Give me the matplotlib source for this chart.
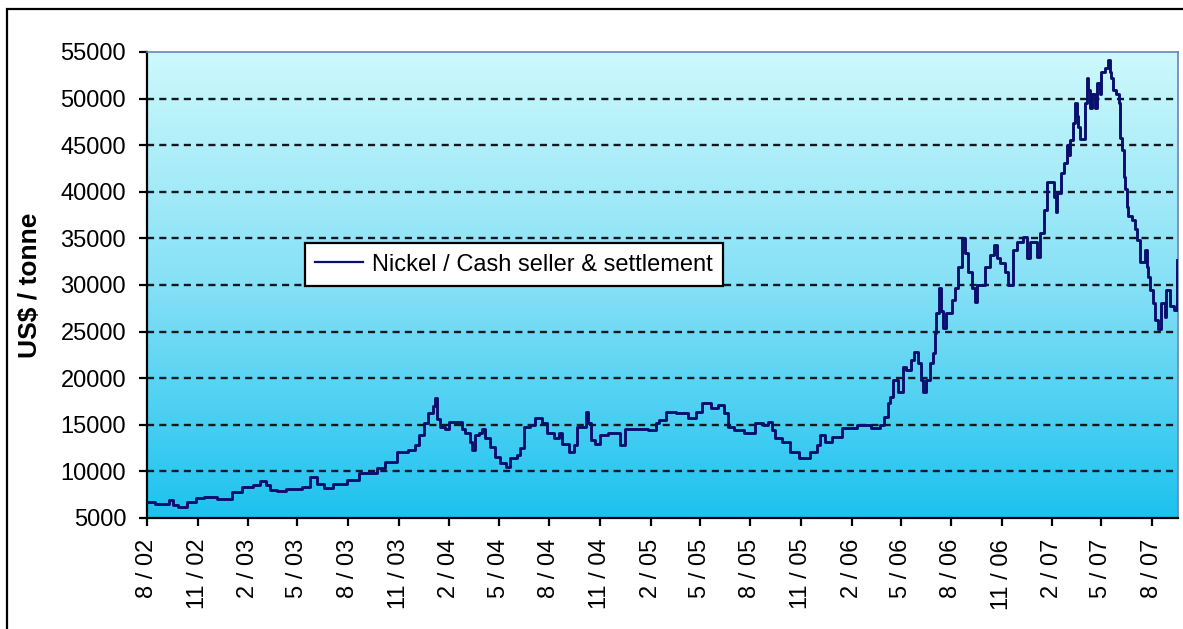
import matplotlib
matplotlib.use("Agg")
import matplotlib.pyplot as plt
from matplotlib.colors import LinearSegmentedColormap
from matplotlib.patches import Rectangle
import numpy as np
import pandas as pd

# ---- data ----
dates = [
    "2002-08-01", "2002-08-15", "2002-09-10", "2002-09-17", "2002-09-26", "2002-10-12", "2002-10-29",
    "2002-11-13", "2002-12-06", "2003-01-03", "2003-01-21", "2003-02-10", "2003-02-22", "2003-03-06",
    "2003-03-13", "2003-03-25", "2003-04-10", "2003-05-09", "2003-05-24", "2003-06-06", "2003-06-18",
    "2003-07-04", "2003-07-30", "2003-08-22", "2003-09-22", "2003-10-08", "2003-10-30", "2003-11-18",
    "2003-12-01", "2003-12-09", "2003-12-18", "2003-12-24", "2004-01-03", "2004-01-06", "2004-01-09",
    "2004-01-15", "2004-01-24", "2004-02-01", "2004-02-24", "2004-03-01", "2004-03-10", "2004-03-13",
    "2004-03-18", "2004-03-27", "2004-04-01", "2004-04-06", "2004-04-15", "2004-04-24", "2004-05-03",
    "2004-05-15", "2004-05-21", "2004-06-03", "2004-06-09", "2004-06-15", "2004-06-27", "2004-07-06",
    "2004-07-18", "2004-07-27", "2004-08-09", "2004-08-18", "2004-08-24", "2004-09-05", "2004-09-14",
    "2004-09-20", "2004-10-07", "2004-10-10", "2004-10-16", "2004-10-22", "2004-11-01", "2004-11-15",
    "2004-12-07", "2004-12-16", "2005-01-28", "2005-02-10", "2005-02-16", "2005-03-01", "2005-03-19",
    "2005-04-10", "2005-04-25", "2005-05-06", "2005-05-21", "2005-06-03", "2005-06-15", "2005-06-21",
    "2005-07-03", "2005-07-21", "2005-08-09", "2005-08-24", "2005-09-03", "2005-09-09", "2005-09-15",
    "2005-09-27", "2005-10-12", "2005-10-28", "2005-11-18", "2005-12-01", "2005-12-06", "2005-12-15",
    "2005-12-27", "2006-01-15", "2006-02-11", "2006-03-09", "2006-03-24", "2006-04-01", "2006-04-09",
    "2006-04-11", "2006-04-17", "2006-04-26", "2006-05-05", "2006-05-11", "2006-05-20", "2006-05-26",
    "2006-06-02", "2006-06-08", "2006-06-11", "2006-06-17", "2006-06-23", "2006-06-29", "2006-07-02",
    "2006-07-05", "2006-07-10", "2006-07-14", "2006-07-17", "2006-07-23", "2006-08-02", "2006-08-08",
    "2006-08-14", "2006-08-20", "2006-08-26", "2006-09-01", "2006-09-08", "2006-09-14", "2006-09-17",
    "2006-10-02", "2006-10-11", "2006-10-17", "2006-10-23", "2006-10-29", "2006-11-07", "2006-11-13",
    "2006-11-22", "2006-11-28", "2006-12-10", "2006-12-16", "2006-12-22", "2007-01-04", "2007-01-10",
    "2007-01-16", "2007-01-22", "2007-02-04", "2007-02-07", "2007-02-10", "2007-02-16", "2007-02-22",
    "2007-02-28", "2007-03-02", "2007-03-05", "2007-03-11", "2007-03-14", "2007-03-17", "2007-03-20",
    "2007-03-23", "2007-04-01", "2007-04-04", "2007-04-07", "2007-04-10", "2007-04-13", "2007-04-19",
    "2007-04-22", "2007-04-28", "2007-05-01", "2007-05-07", "2007-05-13", "2007-05-16", "2007-05-19",
    "2007-05-22", "2007-05-28", "2007-06-01", "2007-06-04", "2007-06-07", "2007-06-10", "2007-06-13",
    "2007-06-16", "2007-06-19", "2007-06-25", "2007-07-01", "2007-07-04", "2007-07-10", "2007-07-19",
    "2007-07-22", "2007-07-25", "2007-07-28", "2007-08-03", "2007-08-06", "2007-08-12", "2007-08-18",
    "2007-08-24", "2007-08-27", "2007-09-03", "2007-09-09", "2007-09-15",
]
prices = [
    6750, 6470, 6930, 6400, 6210, 6750, 7110,
    7290, 7000, 7830, 8360, 8540, 8970, 8540,
    8000, 7900, 8080, 8360, 9430, 8650, 8180,
    8650, 9080, 9800, 10330, 11040, 12110, 12300,
    12830, 13900, 15160, 16230, 17000, 17840, 15600,
    14800, 14560, 15330, 14500, 14090, 13190, 12300,
    13900, 14090, 14500, 13550, 12650, 11580, 10930,
    10500, 11400, 11760, 12480, 14800, 15000, 15700,
    15160, 14090, 13550, 14090, 12920, 12110, 12830,
    14800, 16400, 15160, 13370, 12900, 13900, 14090,
    12830, 14560, 14400, 15160, 15520, 16400, 16230,
    15700, 16400, 17300, 16770, 17130, 16230, 14800,
    14440, 14090, 15160, 15000, 15330, 14440, 13550,
    13190, 12110, 11400, 12110, 12830, 13900, 13190,
    13730, 14620, 15000, 14620, 15000, 15870, 17300,
    18020, 19800, 18550, 21230, 20880, 21950, 22850,
    21600, 19800, 18550, 19800, 21600, 22680, 24820,
    26970, 29650, 27160, 25350, 26970, 28390, 29650,
    31960, 35010, 33400, 31430, 29650, 28210, 30000,
    31960, 33220, 34290, 32860, 32330, 31430, 30000,
    33760, 34640, 35180, 32860, 34640, 33040, 35550,
    38050, 41090, 39480, 37880, 39840, 42000, 43050,
    45020, 43950, 45550, 47350, 49500, 48100, 47000,
    45640, 49500, 52180, 50900, 48960, 50540, 48960,
    51650, 50540, 52900, 53260, 54140, 52900, 52180,
    50920, 50540, 49500, 45740, 44490, 41620, 40300,
    38400, 37380, 37020, 36000, 34830, 32500, 33760,
    31960, 30900, 29470, 28040, 26250, 25250, 28040,
    26600, 29470, 27700, 27320, 32680,
]
series_name = "Nickel / Cash seller & settlement"
tick_dates = [
    "2002-08-01", "2002-11-01", "2003-02-01", "2003-05-01", "2003-08-01", "2003-11-01",
    "2004-02-01", "2004-05-01", "2004-08-01", "2004-11-01", "2005-02-01", "2005-05-01",
    "2005-08-01", "2005-11-01", "2006-02-01", "2006-05-01", "2006-08-01", "2006-11-01",
    "2007-02-01", "2007-05-01", "2007-08-01",
]
tick_labels = [
    "8 / 02", "11 / 02", "2 / 03", "5 / 03", "8 / 03", "11 / 03",
    "2 / 04", "5 / 04", "8 / 04", "11 / 04", "2 / 05", "5 / 05",
    "8 / 05", "11 / 05", "2 / 06", "5 / 06", "8 / 06", "11 / 06",
    "2 / 07", "5 / 07", "8 / 07",
]
y_ticks = [5000, 10000, 15000, 20000, 25000, 30000, 35000, 40000, 45000, 50000, 55000]
y_label = "US$ / tonne"

plt.rcParams["font.family"] = ["Liberation Sans", "DejaVu Sans"]

W, H = 1183, 629
fig = plt.figure(figsize=(W / 100, H / 100), dpi=100)
fig.patch.set_facecolor("white")

# outer frame
fig.patches.append(Rectangle((7 / W, -0.05), 1.2, 1 - 9 / H + 0.05, transform=fig.transFigure,
                             fill=False, edgecolor="black", linewidth=1.6, zorder=0))

left, right, top, bottom = 147, 1178, 52, 518
pos = [left / W, 1 - bottom / H, (right - left) / W, (bottom - top) / H]

# gradient background
bg = fig.add_axes(pos, zorder=0)
cmap = LinearSegmentedColormap.from_list(
    "bg", [(0.0, "#1cc2ef"), (0.5, "#86e0f6"), (1.0, "#cdf9fc")])
grad = np.linspace(1, 0, 256).reshape(-1, 1)
bg.imshow(grad, aspect="auto", cmap=cmap, extent=[0, 1, 0, 1], vmin=0, vmax=1)
bg.set_axis_off()

ax = fig.add_axes(pos, zorder=1)
ax.set_facecolor("none")

x = pd.to_datetime(dates)
ax.plot(x, prices, color="#0a0f6e", linewidth=2.1, drawstyle="steps-post",
        label=series_name, zorder=3)

for yv in y_ticks[1:-1]:
    ax.axhline(yv, color="#101820", linewidth=1.7, linestyle=(0, (3.0, 2.2)), zorder=2)

ax.set_xlim(pd.Timestamp("2002-08-01"), pd.Timestamp("2007-09-17"))
ax.set_ylim(5000, 55000)
ax.set_yticks(y_ticks)
ax.set_yticklabels([str(v) for v in y_ticks], fontsize=17)
ax.set_xticks(pd.to_datetime(tick_dates))
ax.set_xticklabels(tick_labels, rotation=90, fontsize=17)
ax.tick_params(axis="both", direction="out", length=6, width=1.6, color="black")
ax.tick_params(axis="x", pad=9)
ax.tick_params(axis="y", pad=9)

for s in ["left", "bottom"]:
    ax.spines[s].set_color("black")
    ax.spines[s].set_linewidth(1.6)
for s in ["top", "right"]:
    ax.spines[s].set_color("#6a84b8")
    ax.spines[s].set_linewidth(1.2)

ax.set_ylabel(y_label, fontsize=19, fontweight="bold", labelpad=13)

leg = ax.legend(loc="upper left", bbox_to_anchor=(0.153, 0.590), borderaxespad=0,
                fontsize=17, frameon=True, fancybox=False, handlelength=2.0,
                handletextpad=0.4, borderpad=0.45)
leg.get_frame().set_edgecolor("black")
leg.get_frame().set_linewidth(1.6)
leg.get_frame().set_facecolor("white")
leg.get_frame().set_alpha(1)
leg.get_lines()[0].set_linewidth(1.6)

fig.savefig("out.png", dpi=100)
